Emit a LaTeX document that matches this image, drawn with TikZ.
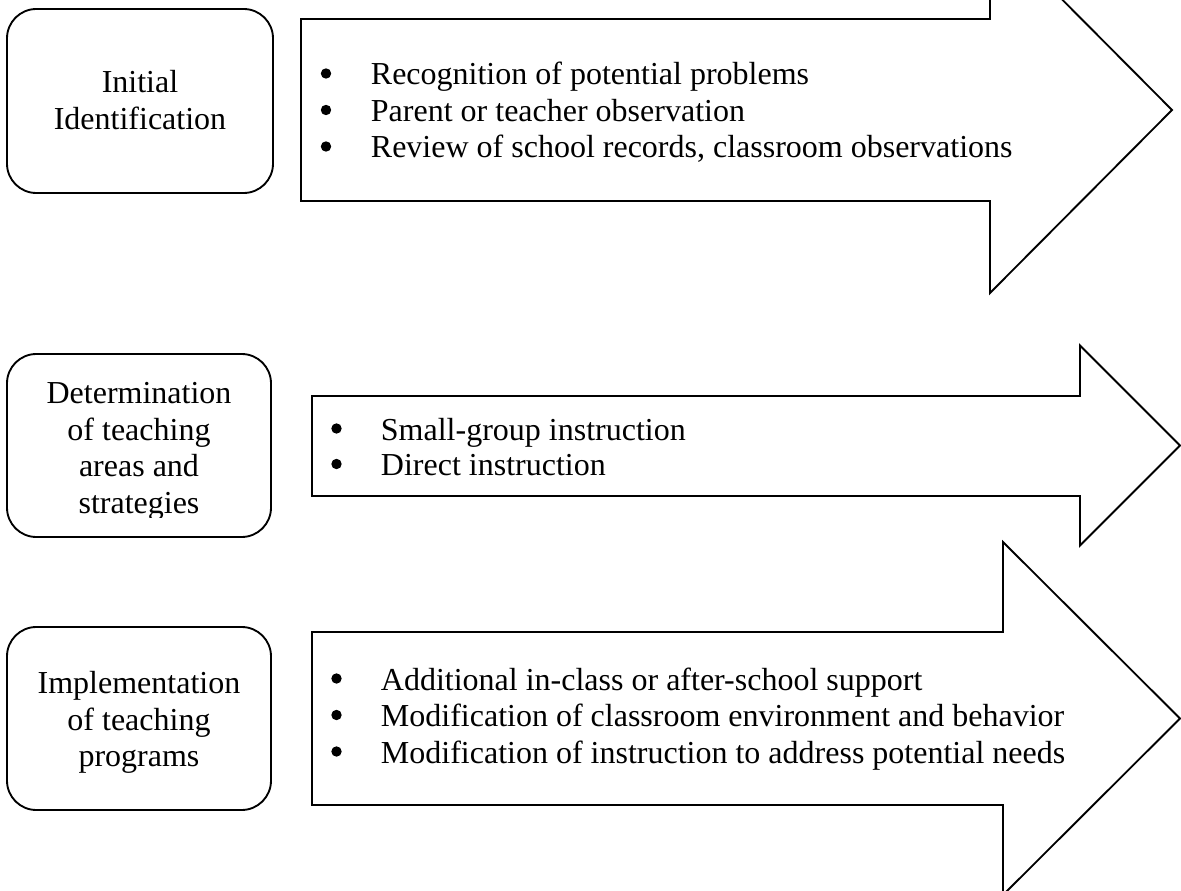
\documentclass[tikz,border=0pt]{standalone}
\usepackage{fontspec}
\setmainfont{Liberation Serif}
\begin{document}
\begin{tikzpicture}[x=0.75pt,y=-0.75pt, line width=1.4pt,
  rbox/.style={draw, rounded corners=22pt},
  bigarrow/.style={draw, line join=miter},
  lbl/.style={font=\fontsize{24}{27.5}\selectfont, inner sep=0pt, anchor=base},
  item/.style={font=\fontsize{24}{27.5}\selectfont, inner sep=0pt, anchor=base west},
  dot/.style={fill=black}]
\useasboundingbox (0,0) rectangle (1181,891);
\clip (0,0) rectangle (1181,891);
% rounded boxes
\draw[rbox] (7,9) rectangle (273,193);
\draw[rbox] (7,354) rectangle (271,537);
\draw[rbox] (7,627) rectangle (271,810);
% arrows
\draw[bigarrow] (301,19) -- (990,19) -- (990,-73) -- (1172,110) -- (990,293) -- (990,201) -- (301,201) -- cycle;
\draw[bigarrow] (312,396) -- (1080,396) -- (1080,345.5) -- (1180,445.5) -- (1080,545.5) -- (1080,496) -- (312,496) -- cycle;
\draw[bigarrow] (312,632) -- (1003,632) -- (1003,542) -- (1180,718.5) -- (1003,895) -- (1003,805) -- (312,805) -- cycle;
% box labels
\node[lbl] (l1a) at (140,93) {Initial};
\node[lbl] (l1b) at (140,130) {Identification};
\node[lbl] (l2a) at (139,403) {Determination};
\node[lbl] (l2b) at (139,440) {of teaching};
\node[lbl] (l2c) at (139,476.5) {areas and};
\begin{scope}
\clip (0,330) rectangle (300,517);
\node[lbl] (l2d) at (139,513) {strategies};
\end{scope}
\node[lbl] (l3a) at (139,693) {Implementation};
\node[lbl] (l3b) at (139,730) {of teaching};
\node[lbl] (l3c) at (139,766.5) {programs};
% bullet items
\node[item] (i1a) at (370,85) {Recognition of potential problems};
\node[item] (i1b) at (370,121.5) {Parent or teacher observation};
\node[item] (i1c) at (370,158) {Review of school records, classroom observations};
\node[item] (i2a) at (380,440) {Small-group instruction};
\node[item] (i2b) at (380,475.5) {Direct instruction};
\node[item] (i3a) at (380,690) {Additional in-class or after-school support};
\node[item] (i3b) at (380,726.5) {Modification of classroom environment and behavior};
\node[item] (i3c) at (380,763) {Modification of instruction to address potential needs};
% bullets
\foreach \n in {i1a,i1b,i1c}
  \fill[dot] ([shift={(-44,-11.5)}]\n.base west) circle (3.9pt);
\foreach \n in {i2a,i2b,i3a,i3b,i3c}
  \fill[dot] ([shift={(-43.5,-11.5)}]\n.base west) circle (3.9pt);
\end{tikzpicture}
\end{document}
